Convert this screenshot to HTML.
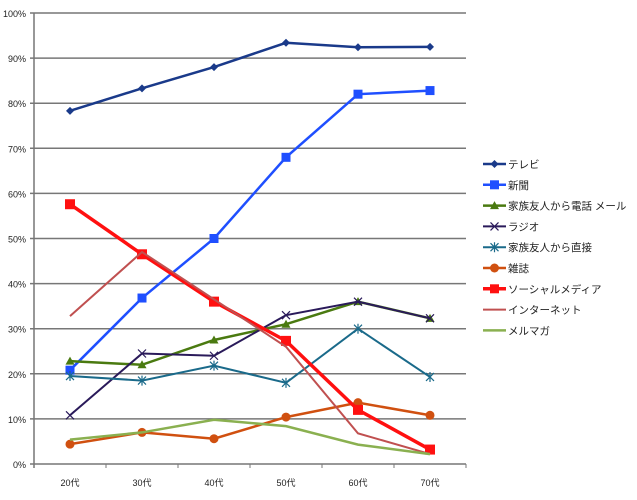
<!DOCTYPE html>
<html><head><meta charset="utf-8"><style>
body{margin:0;background:#fff;}
svg text{font-family:"Liberation Sans","Noto Sans CJK JP",sans-serif;fill:#222;}
</style></head><body>
<svg id="c" width="637" height="495" xmlns="http://www.w3.org/2000/svg"></svg>
<script>
const categories=["20代","30代","40代","50代","60代","70代"];
const yTicks=[0,10,20,30,40,50,60,70,80,90,100];
const seriesNames=["テレビ","新聞","家族友人から電話 メール","ラジオ","家族友人から直接","雑誌","ソーシャルメディア","インターネット","メルマガ"];
const tv=[78.3,83.3,88,93.4,92.4,92.5];
const paper=[20.8,36.8,50,68,82,82.8];
const phoneMail=[22.8,22,27.5,31,36,32.3];
const radio=[10.8,24.5,24,33,36,32.3];
const direct=[19.5,18.5,21.8,18,30,19.3];
const magazine=[4.4,7,5.6,10.4,13.6,10.8];
const social=[57.6,46.5,36,27.3,12,3.2];
const internet=[32.8,47,36.5,26,6.8,2.2];
const mailmag=[5.4,7,9.8,8.4,4.3,2.2];
const seriesValues=[tv,paper,phoneMail,radio,direct,magazine,social,internet,mailmag];
const colors=["#1a3a8a","#1f4fff","#4a7a10","#2a1a5a","#1a6a8a","#d05010","#ff1010","#c05050","#8ab050"];
const widths=[2.5,2.5,2.5,2,2,2.5,3.5,2,2.5];
const markers=["diamond","square","triangle","x","star","circle","bigsquare","none","none"];
const keys=["tv","newspaper","phone-mail","radio","direct","magazine","social-media","internet","mail-magazine"];
const svg=document.getElementById('c');const NS="http://www.w3.org/2000/svg";
const L=34,R=466,T=13,B=464;
const xS=i=>L+(i+0.5)*(R-L)/categories.length;
const yS=v=>B-v/100*(B-T);
function mk(t,a,p){const e=document.createElementNS(NS,t);for(const k in a)e.setAttribute(k,a[k]);(p||svg).appendChild(e);return e;}
yTicks.forEach(v=>{const g=mk('line',{x1:L-4,x2:R,y1:yS(v),y2:yS(v),stroke:'#777','stroke-width':1.5});


const t=mk('text',{x:L-8,y:yS(v)+4,'text-anchor':'end','font-size':9});t.textContent=v+'%';

});
const ax=mk('line',{x1:L,x2:L,y1:T,y2:B+4,stroke:'#777','stroke-width':1.5});


for(let i=0;i<=categories.length;i++){const x=L+i*(R-L)/categories.length;mk('line',{x1:x,x2:x,y1:B,y2:B+4,stroke:'#777'});}
categories.forEach((c,i)=>{const t=mk('text',{x:xS(i),y:B+22,'text-anchor':'middle','font-size':9});t.textContent=c;

});
function marker(type,x,y,col,g){
 if(type==='diamond')mk('polygon',{points:`${x},${y-4} ${x+4},${y} ${x},${y+4} ${x-4},${y}`,fill:col},g);
 else if(type==='square')mk('rect',{x:x-4.5,y:y-4.5,width:9,height:9,fill:col},g);
 else if(type==='bigsquare')mk('rect',{x:x-5,y:y-5,width:10,height:10,fill:col},g);
 else if(type==='triangle')mk('polygon',{points:`${x},${y-4.5} ${x+4.5},${y+3.5} ${x-4.5},${y+3.5}`,fill:col},g);
 else if(type==='circle')mk('circle',{cx:x,cy:y,r:4.5,fill:col},g);
 else if(type==='x'){mk('path',{d:`M${x-4},${y-4}L${x+4},${y+4}M${x+4},${y-4}L${x-4},${y+4}`,stroke:col,'stroke-width':1.2},g);}
 else if(type==='star'){mk('path',{d:`M${x-4},${y-4}L${x+4},${y+4}M${x+4},${y-4}L${x-4},${y+4}M${x},${y-5}L${x},${y+5}`,stroke:col,'stroke-width':1.2},g);}
}
seriesValues.forEach((vals,s)=>{
 const g=mk('g',{});
 
 
 mk('polyline',{points:vals.map((v,i)=>xS(i)+','+yS(v)).join(' '),fill:'none',stroke:colors[s],'stroke-width':widths[s]},g);
 vals.forEach((v,i)=>marker(markers[s],xS(i),yS(v),colors[s],g));
 const ly=164+s*20.8;
 const lg=mk('g',{});
 
 
 mk('line',{x1:483,x2:506,y1:ly,y2:ly,stroke:colors[s],'stroke-width':widths[s]},lg);
 marker(markers[s]==='bigsquare'?'square':markers[s],494.5,ly,colors[s],lg);
 const t=mk('text',{x:508,y:ly+4,'font-size':10.5},lg);t.textContent=seriesNames[s];
});
</script>
</body></html>
